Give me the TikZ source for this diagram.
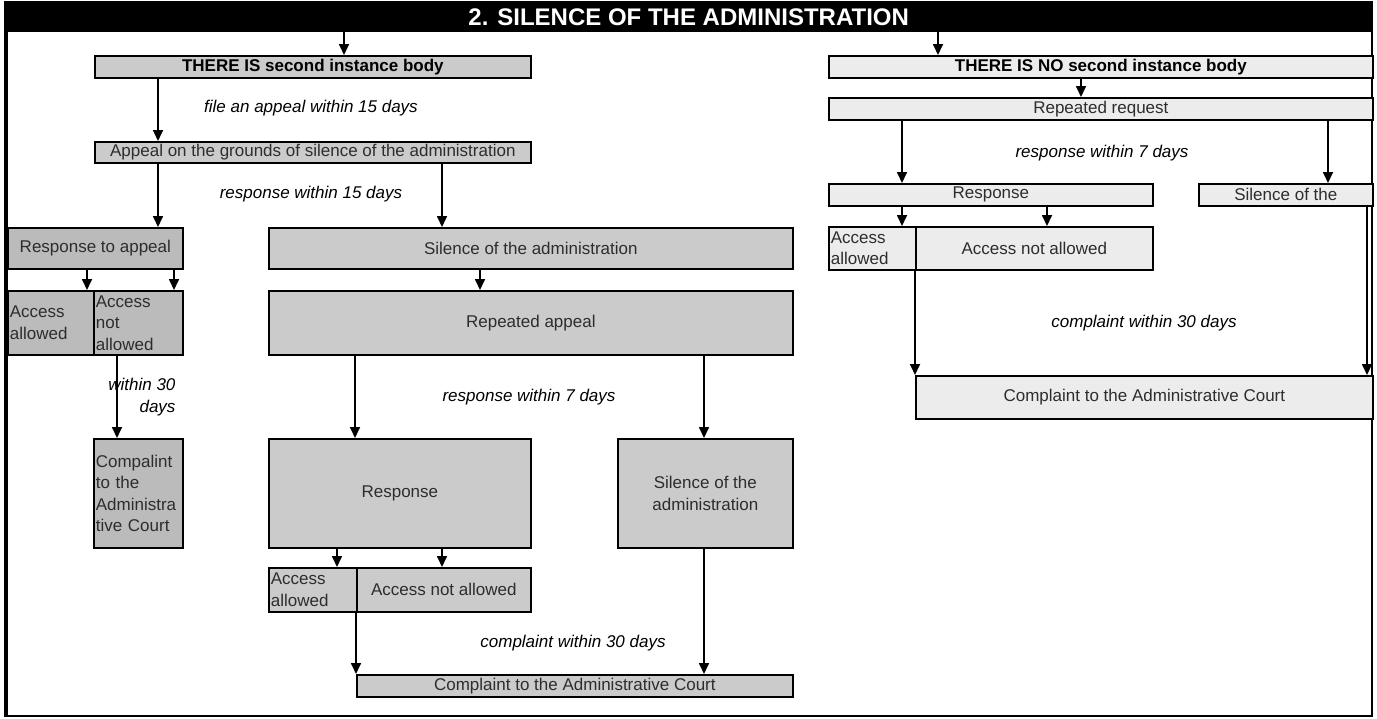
\documentclass[tikz,border=0pt]{standalone}
\usepackage{fontspec}
\setmainfont{Liberation Sans}
\usetikzlibrary{arrows.meta}
\definecolor{leftgray}{RGB}{187,187,187}
\definecolor{midgray}{RGB}{203,203,203}
\definecolor{rightgray}{RGB}{236,236,236}
\definecolor{txtgray}{RGB}{45,45,45}
\newcommand{\bodyfont}{\fontsize{17}{21.5}\selectfont}

\begin{document}
\begin{tikzpicture}[x=1pt,y=-1pt,
    box/.style={draw,line width=1.7pt,inner sep=2pt,anchor=north west,font=\bodyfont,text=txtgray},
    sz/.style 2 args={minimum width=#1pt,minimum height=#2pt},
    leftbox/.style={box,fill=leftgray},
    midbox/.style={box,fill=midgray},
    rightbox/.style={box,fill=rightgray},
    headbox/.style={font=\bodyfont\bfseries,text=black},
    lbl/.style={font=\bodyfont\itshape},
    arr/.style={line width=1.7pt,-{Triangle[length=11pt,width=10pt]}}]
  \useasboundingbox (0,0) rectangle (1377,718);
  \draw[line width=2.2pt] (5,2) rectangle (1372,716);
  \draw[line width=3pt] (6,2) -- (6,716);
  \node[fill=black,anchor=north west,sz={1367}{30},inner sep=0pt,
        font=\fontsize{24}{28}\selectfont\bfseries,text=white] (title) at (5,2)
        {2. SILENCE OF THE ADMINISTRATION};

  % there is a second instance body
  \node[midbox,headbox,sz={436}{22}] (there) at (94,55) {THERE IS second instance body};
  \node[midbox,sz={436}{21}] (appeal) at (94,141) {Appeal on the grounds of silence of the administration};
  \node[leftbox,sz={175}{41}] (respappeal) at (7,227) {Response to appeal};
  \node[midbox,sz={524}{41}] (silence1) at (268,227) {Silence of the administration};
  \node[leftbox,sz={86}{64},align=left,text width=82pt] (allow1) at (7,290) {Access\\allowed};
  \node[leftbox,sz={89}{64},align=left,text width=85pt] (deny1) at (93,290) {Access\\not\\allowed};
  \node[leftbox,sz={89}{109},align=left,text width=85pt] (court1) at (93,438)
    {Compalint\\to the\\Administra\\tive Court};
  \node[midbox,sz={524}{64}] (repappeal) at (268,290) {Repeated appeal};
  \node[midbox,sz={262}{109}] (resp2) at (268,438) {Response};
  \node[midbox,sz={175}{109},align=center] (silence2) at (617,438) {Silence of the\\administration};
  \node[midbox,sz={88}{44},align=left,text width=84pt] (allow2) at (268,567) {Access\\allowed};
  \node[midbox,sz={174}{44}] (deny2) at (356,567) {Access not allowed};
  \node[midbox,sz={436}{22}] (court2) at (356,674) {Complaint to the Administrative Court};

  % there is no second instance body
  \node[rightbox,headbox,sz={544}{22}] (thereno) at (828,55) {THERE IS NO second instance body};
  \node[rightbox,sz={544}{22}] (repreq) at (828,97) {Repeated request};
  \node[rightbox,sz={324}{22}] (resp3) at (828,183) {Response};
  \node[rightbox,sz={174}{22}] (silence3) at (1198,183) {Silence of the};
  \node[rightbox,sz={87}{43},align=left,text width=83pt] (allow3) at (828,226) {Access\\allowed};
  \node[rightbox,sz={237}{43}] (deny3) at (915,226) {Access not allowed};
  \node[rightbox,sz={457}{43}] (court3) at (915,375) {Complaint to the Administrative Court};

  % labels
  \node[lbl] (lab1) at (311,108) {file an appeal within 15 days};
  \node[lbl] (lab2) at (311,194) {response within 15 days};
  \node[lbl,align=right,anchor=east] (lab3) at (179,397) {within 30\\days};
  \node[lbl] (lab4) at (529,397) {response within 7 days};
  \node[lbl] (lab5) at (573,643) {complaint within 30 days};
  \node[lbl] (lab6) at (1102,153) {response within 7 days};
  \node[lbl] (lab7) at (1144,323) {complaint within 30 days};

  % arrow lanes
  \foreach \n/\x in {t1/344,t2/938,a1/158,a2/442,a3/87,a4/174,a5/117,a6/480,a7/355,a8/704,
      a9/337,a10/356,b1/1081,b2/902,b3/1328,b4/1047,b5/1367,b6/915}
    \coordinate (\n) at (\x,0);

  \draw[arr] (title.south -| t1) -- (there.north -| t1);
  \draw[arr] (title.south -| t2) -- (thereno.north -| t2);
  \foreach \p/\q/\l in {there/appeal/a1,appeal/respappeal/a1,appeal/silence1/a2,
      respappeal/allow1/a3,respappeal/deny1/a4,deny1/court1/a5,silence1/repappeal/a6,
      repappeal/resp2/a7,repappeal/silence2/a8,resp2/allow2/a9,resp2/deny2/a2,
      silence2/court2/a8,allow2/court2/a10,thereno/repreq/b1,repreq/resp3/b2,
      repreq/silence3/b3,resp3/allow3/b2,resp3/deny3/b4,silence3/court3/b5,allow3/court3/b6}
    \draw[arr] (\p.south -| \l) -- (\q.north -| \l);
\end{tikzpicture}
\end{document}
